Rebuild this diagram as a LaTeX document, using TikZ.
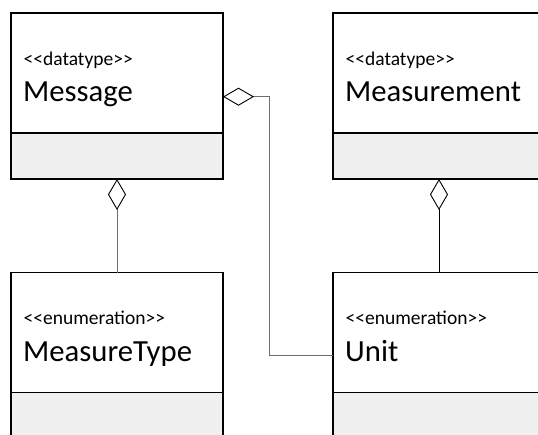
\documentclass[tikz,border=0pt]{standalone}
\usepackage{fontspec}
\setmainfont{Carlito}
\usetikzlibrary{arrows.meta}
\definecolor{attrgray}{HTML}{F0F0F0}
\definecolor{linkgray}{HTML}{6E6E6E}
\newcommand{\stype}[1]{{<}{<}#1{>}{>}}
\begin{document}
\begin{tikzpicture}[x=1pt,y=-1pt,
  namepart/.style={draw=black, line width=1.4pt, fill=white, anchor=north west,
    minimum width=212pt, minimum height=120pt, inner sep=0pt, outer sep=0pt},
  attrpart/.style={draw=black, line width=1.4pt, fill=attrgray, anchor=north west,
    minimum width=212pt, minimum height=46pt, inner sep=0pt, outer sep=0pt},
  stereo/.style={anchor=base west, inner sep=0pt, font=\fontsize{19.5}{21}\selectfont},
  cname/.style={anchor=base west, inner sep=0pt, font=\fontsize{30.7}{34}\selectfont},
  link/.style={draw=linkgray, line width=1pt},
  darklink/.style={draw=black, line width=1pt},
  agg/.style={{Diamond[open, length=31pt, width=18pt, color=black, line width=0.9pt]}-}]
\useasboundingbox (0,0) rectangle (538,434);
\clip (0,0) rectangle (538,434);

% Message
\node[namepart] (msg) at (11,13) {};
\node[attrpart] (msgattr) at (11,133) {};
\node[stereo] (msgst) at (23.5,65) {\stype{datatype}};
\node[cname] (msgname) at (23,101.7) {Message};

% Measurement
\node[namepart] (meas) at (333,13) {};
\node[attrpart] (measattr) at (333,133) {};
\node[stereo] (measst) at (345.5,65) {\stype{datatype}};
\node[cname] (measname) at (345,101.7) {Measurement};

% MeasureType
\node[namepart] (mt) at (11,272.5) {};
\node[attrpart] (mtattr) at (11,392.5) {};
\node[stereo] (mtst) at (23.5,324.5) {\stype{enumeration}};
\node[cname] (mtname) at (23,361.5) {MeasureType};

% Unit
\node[namepart] (unit) at (333,272.5) {};
\node[attrpart] (unitattr) at (333,392.5) {};
\node[stereo] (unitst) at (345.5,324.5) {\stype{enumeration}};
\node[cname] (unitname) at (345,361.5) {Unit};

% aggregations
\draw[link, agg] (msgattr.south) -- (mt.north);
\draw[darklink, agg] (measattr.south) -- (unit.north);
\coordinate (msgport) at ([yshift=-23.7pt]msg.east);
\coordinate (unitport) at ([yshift=-22.5pt]unit.west);
\draw[link, agg] (msgport) -- (269.5,0 |- msgport) |- (unitport);
\end{tikzpicture}
\end{document}
